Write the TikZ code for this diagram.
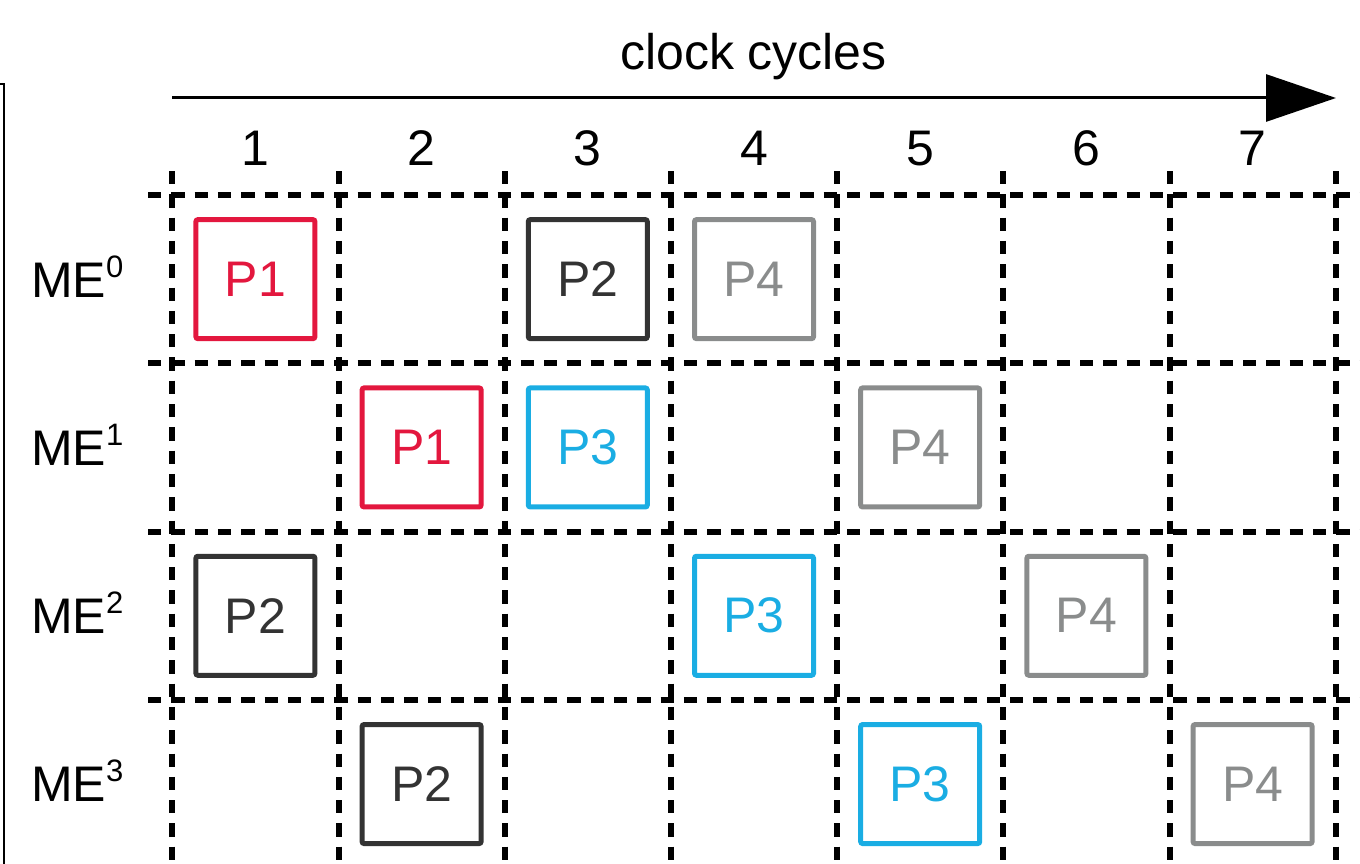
\documentclass[tikz,border=0pt]{standalone}
\usepackage{fontspec}
\setmainfont{Liberation Sans}
\usetikzlibrary{arrows.meta}

\definecolor{pred}{HTML}{E3173E}
\definecolor{pdark}{HTML}{333333}
\definecolor{pgray}{HTML}{8A8C8C}
\definecolor{pcyan}{HTML}{1AADE3}

\newcommand{\bigfont}{\fontsize{50}{60}\selectfont}
\newcommand{\supfont}{\fontsize{31}{36}\selectfont}

\tikzset{
  gridline/.style={line width=6pt, dash pattern=on 13.3pt off 10pt},
  pbox/.style={draw=#1, text=#1, line width=5pt, rounded corners=2pt,
    minimum size=119pt, inner sep=0pt, font=\bigfont},
  lbl/.style={inner sep=0pt, font=\bigfont},
}

\begin{document}
\begin{tikzpicture}[x=1pt, y=-1pt]
  \useasboundingbox (0,0) rectangle (1360,864);

  % frame edge on the left
  \draw[line width=2.5pt] (-5,84) -- (4,84) -- (4,870);

  % time axis
  \node[lbl, anchor=base] (title) at (753.5,70) {clock cycles};
  \coordinate (axs) at (172,98);
  \coordinate (axe) at (1336,98);
  \draw[line width=3pt, -{Triangle[length=70pt,width=47pt]}] (axs) -- (axe);

  % cycle numbers
  \foreach \c in {1,...,7} {
    \node[lbl, anchor=base] (n\c) at ({172.3+166.2*(\c-0.5)},165) {\c};
  }

  % dashed grid
  \foreach \i in {0,...,7} {
    \draw[gridline] ({172.3+166.2*\i},171) -- ({172.3+166.2*\i},870);
  }
  \foreach \j in {0,...,3} {
    \draw[gridline] (148,{195+168.3*\j}) -- (1365,{195+168.3*\j});
  }

  % unit labels
  \foreach \r in {0,...,3} {
    \node[lbl, anchor=base west] (me\r) at (31,{297+168.3*\r})
      {ME\raisebox{20pt}{\supfont\r}};
  }

  % scheduled packets: colour / column / row / text
  \foreach \col/\c/\r/\t [count=\k] in {
      pred/1/0/P1, pdark/3/0/P2, pgray/4/0/P4,
      pred/2/1/P1, pcyan/3/1/P3, pgray/5/1/P4,
      pdark/1/2/P2, pcyan/4/2/P3, pgray/6/2/P4,
      pdark/2/3/P2, pcyan/5/3/P3, pgray/7/3/P4} {
    \node[pbox=\col] (b\k) at ({172.3+166.2*(\c-0.5)},{195+168.3*(\r+0.5)}) {\t};
  }
\end{tikzpicture}
\end{document}
